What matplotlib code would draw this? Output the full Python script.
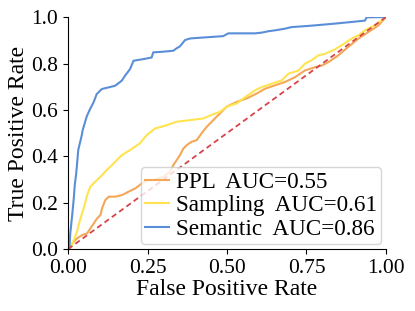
import matplotlib
matplotlib.use("Agg")
import matplotlib.pyplot as plt

# ROC points
names = ["PPL", "Sampling", "Semantic"]
aucs = [0.55, 0.61, 0.86]

fpr_ppl = [0, 0.002, 0.018, 0.028, 0.044, 0.060, 0.070, 0.081, 0.091, 0.102,
           0.107, 0.117, 0.128, 0.149, 0.170, 0.191, 0.212, 0.233, 0.254, 0.268,
           0.300, 0.321, 0.331, 0.342, 0.352, 0.363, 0.373, 0.389, 0.405, 0.420,
           0.436, 0.452, 0.467, 0.483, 0.499, 0.531, 0.563, 0.594, 0.619, 0.651,
           0.682, 0.714, 0.745, 0.777, 0.798, 0.819, 0.850, 0.881, 0.913, 0.945,
           0.976, 1.0]
tpr_ppl = [0, 0.003, 0.032, 0.046, 0.060, 0.068, 0.089, 0.111, 0.132, 0.147,
           0.176, 0.211, 0.226, 0.226, 0.233, 0.248, 0.262, 0.284, 0.298, 0.298,
           0.312, 0.333, 0.362, 0.384, 0.405, 0.434, 0.448, 0.463, 0.470, 0.499,
           0.527, 0.549, 0.570, 0.592, 0.614, 0.635, 0.650, 0.671, 0.691, 0.706,
           0.720, 0.741, 0.770, 0.784, 0.791, 0.806, 0.835, 0.871, 0.907, 0.936,
           0.964, 1.0]

fpr_smp = [0, 0.007, 0.018, 0.028, 0.039, 0.049, 0.060, 0.070, 0.086, 0.102,
           0.117, 0.138, 0.169, 0.195, 0.226, 0.247, 0.274, 0.310, 0.342, 0.384,
           0.425, 0.451, 0.478, 0.499, 0.531, 0.552, 0.588, 0.609, 0.641, 0.672,
           0.693, 0.725, 0.745, 0.766, 0.787, 0.808, 0.834, 0.860, 0.892, 0.913,
           0.934, 0.965, 1.0]
tpr_smp = [0, 0.003, 0.039, 0.075, 0.132, 0.175, 0.233, 0.269, 0.291, 0.312,
           0.334, 0.362, 0.405, 0.427, 0.456, 0.491, 0.520, 0.534, 0.549, 0.556,
           0.563, 0.578, 0.592, 0.614, 0.628, 0.650, 0.684, 0.698, 0.713, 0.727,
           0.756, 0.770, 0.799, 0.814, 0.835, 0.842, 0.857, 0.878, 0.907, 0.921,
           0.943, 0.965, 1.0]

fpr_sem = [0, 0.004, 0.007, 0.013, 0.018, 0.021, 0.025, 0.028, 0.032, 0.043,
           0.046, 0.059, 0.069, 0.080, 0.090, 0.106, 0.127, 0.148, 0.169, 0.179,
           0.195, 0.206, 0.237, 0.263, 0.268, 0.300, 0.331, 0.342, 0.352, 0.368,
           0.384, 0.415, 0.457, 0.488, 0.504, 0.588, 0.609, 0.630, 0.651, 0.682,
           0.703, 0.756, 0.798, 0.840, 0.892, 0.934, 0.939, 1.0]
tpr_sem = [0, 0.003, 0.068, 0.147, 0.218, 0.276, 0.319, 0.362, 0.427, 0.490,
           0.513, 0.573, 0.603, 0.632, 0.668, 0.690, 0.697, 0.704, 0.726, 0.747,
           0.776, 0.812, 0.819, 0.826, 0.848, 0.851, 0.855, 0.866, 0.874, 0.901,
           0.908, 0.911, 0.915, 0.918, 0.930, 0.930, 0.933, 0.939, 0.943, 0.950,
           0.957, 0.962, 0.967, 0.972, 0.979, 0.985, 0.999, 1.0]

xticks = [0.0, 0.25, 0.5, 0.75, 1.0]
yticks = [0.0, 0.2, 0.4, 0.6, 0.8, 1.0]

plt.rcParams["font.family"] = ["Liberation Serif", "DejaVu Serif"]

fig, ax = plt.subplots(figsize=(4.15, 3.11), dpi=100)
fig.subplots_adjust(left=0.164, right=0.930, bottom=0.199, top=0.945)

colors = ["#F4A857", "#FFE34F", "#5B8ED8"]
curves = [(fpr_ppl, tpr_ppl), (fpr_smp, tpr_smp), (fpr_sem, tpr_sem)]
for (fpr, tpr), name, auc, c in zip(curves, names, aucs, colors):
    ax.plot(fpr, tpr, color=c, lw=1.5, label=f"{name}  AUC={auc:.2f}")

# chance line
ax.plot([0, 1], [0, 1], color="#D8434A", lw=1.3, linestyle=(0, (3, 2)))

ax.set_xlim(0, 1)
ax.set_ylim(0, 1)
ax.set_xticks(xticks)
ax.set_xticklabels([f"{t:.2f}" for t in xticks])
ax.set_yticks(yticks)
ax.set_yticklabels([f"{t:.1f}" for t in yticks])
ax.tick_params(labelsize=15.5)
ax.set_xlabel("False Positive Rate", fontsize=17, labelpad=1)
ax.set_ylabel("True Positive Rate", fontsize=17, labelpad=2)
ax.spines["top"].set_visible(False)
ax.spines["right"].set_visible(False)

ax.legend(loc="lower right", fontsize=16.7, handlelength=1.0, handletextpad=0.3,
          labelspacing=0.1, borderpad=0.2, borderaxespad=0.2)

plt.savefig("out.png", dpi=100)
